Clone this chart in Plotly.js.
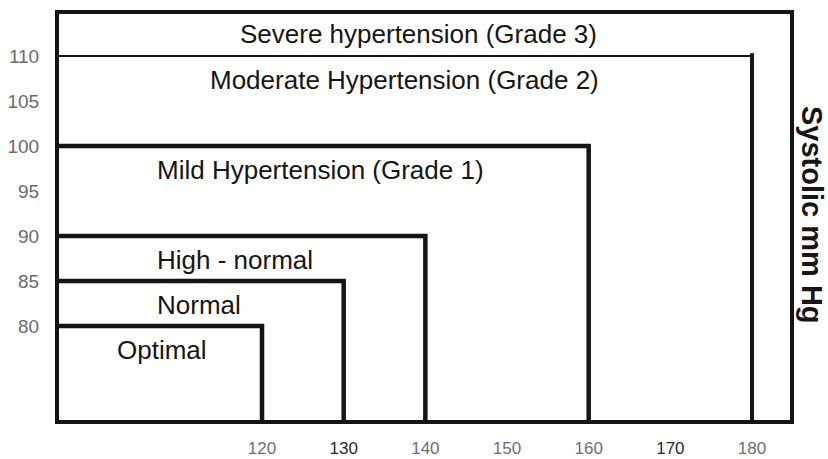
<!DOCTYPE html>
<html>
<head>
<meta charset="utf-8">
<script src="https://cdn.plot.ly/plotly-3.0.1.min.js"></script>
<style>html,body{margin:0;padding:0;background:#fff;}#chart{width:828px;height:459px;}</style>
</head>
<body>
<div id="chart"></div>
<script>
// Data: upper limits of each category (systolic = x, diastolic = y)
var categories = ["Optimal", "Normal", "High - normal", "Mild Hypertension (Grade 1)", "Moderate Hypertension (Grade 2)", "Severe hypertension (Grade 3)"];
var systolicLimits = [120, 130, 140, 160, 180];
var diastolicLimits = [80, 85, 90, 100, 110];
var xTickValues = [120, 130, 140, 150, 160, 170, 180];
var yTickValues = [80, 85, 90, 95, 100, 105, 110];
var axisTitle = "Systolic mm Hg";

// Axis extents
var xRange = [95.14, 184.65];
var yRange = [69.56, 114.67];

var FONT = "Liberation Sans, Arial, sans-serif";
var INK = "#151515";

var traces = [];
var last = systolicLimits.length - 1;
for (var i = 0; i < last; i++) {
  var s = systolicLimits[i], d = diastolicLimits[i];
  traces.push({
    type: "scatter", mode: "lines", hoverinfo: "skip", showlegend: false,
    x: [xRange[0], s, s],
    y: [d, d, yRange[0]],
    line: {color: INK, width: 4.5}
  });
}
// top band: thin horizontal, thick vertical
traces.push({
  type: "scatter", mode: "lines", hoverinfo: "skip", showlegend: false,
  x: [xRange[0], systolicLimits[last]], y: [diastolicLimits[last], diastolicLimits[last]],
  line: {color: INK, width: 2}
});
traces.push({
  type: "scatter", mode: "lines", hoverinfo: "skip", showlegend: false,
  x: [systolicLimits[last], systolicLimits[last]], y: [diastolicLimits[last] + 0.3, yRange[0]],
  line: {color: INK, width: 4}
});

// label placement (style/position only)
var labelX = [102.0, 106.9, 106.9, 106.9, 113.4, 117.1];
var labelOffset = 2.7;
var annotations = [];
var upper = diastolicLimits.concat([yRange[1]]);
for (var j = 0; j < categories.length; j++) {
  annotations.push({
    x: labelX[j], y: upper[j] - (j === categories.length - 1 ? 2.2 : labelOffset),
    xref: "x", yref: "y", text: categories[j], showarrow: false,
    xanchor: "left", yanchor: "middle",
    font: {family: FONT, size: 26, color: INK}
  });
}
annotations.push({
  x: 1, xref: "paper", xanchor: "left", xshift: 4,
  y: 0.5, yref: "paper", yanchor: "middle", yshift: 2,
  text: "<b>" + axisTitle + "</b>", textangle: 90, showarrow: false,
  font: {family: FONT, size: 29, color: INK}
});

function tickText(v) {
  var dark = (v === 130 || v === 170);
  return '<span style="color:' + (dark ? '#2a2a2a' : '#6e6e6e') + '">' + v + '</span>';
}

var layout = {
  width: 828, height: 459,
  margin: {l: 59, r: 38, t: 14, b: 39, pad: 0},
  paper_bgcolor: "#fff", plot_bgcolor: "#fff",
  showlegend: false,
  xaxis: {
    range: xRange, showgrid: false, zeroline: false,
    showline: true, mirror: true, linewidth: 4, linecolor: INK,
    tickmode: "array", tickvals: xTickValues, ticktext: xTickValues.map(tickText),
    ticks: "outside", ticklen: 10, tickcolor: "rgba(0,0,0,0)",
    tickfont: {family: FONT, size: 17, color: "#6e6e6e"}
  },
  yaxis: {
    range: yRange, showgrid: false, zeroline: false,
    showline: true, mirror: true, linewidth: 4, linecolor: INK,
    tickmode: "array", tickvals: yTickValues, ticktext: yTickValues.map(String),
    ticks: "outside", ticklen: 12, tickcolor: "rgba(0,0,0,0)",
    tickfont: {family: FONT, size: 19, color: "#6a6a6a"}
  },
  annotations: annotations
};

Plotly.newPlot("chart", traces, layout, {displayModeBar: false, staticPlot: true});
</script>
</body>
</html>
